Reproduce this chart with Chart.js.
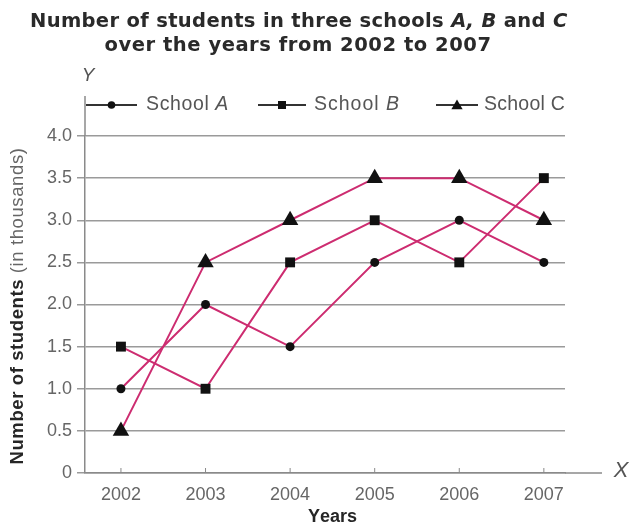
<!DOCTYPE html>
<html>
<head>
<meta charset="utf-8">
<script src="https://cdn.jsdelivr.net/npm/chart.js@4.4.1/dist/chart.umd.min.js"></script>
<style>
  html, body { margin: 0; padding: 0; background: #fff; }
  #wrap { width: 635px; height: 530px; position: relative; }
</style>
</head>
<body>
<div id="wrap"><canvas id="c" width="635" height="530"></canvas></div>
<script>
// ---- data ----
const years = [2002, 2003, 2004, 2005, 2006, 2007];
const schoolA = [1.0, 2.0, 1.5, 2.5, 3.0, 2.5];
const schoolB = [1.5, 1.0, 2.5, 3.0, 2.5, 3.5];
const schoolC = [0.5, 2.5, 3.0, 3.5, 3.5, 3.0];
const yTickValues = [0, 0.5, 1.0, 1.5, 2.0, 2.5, 3.0, 3.5, 4.0];
const yTickLabels = ['0', '0.5', '1.0', '1.5', '2.0', '2.5', '3.0', '3.5', '4.0'];
const seriesNames = ['School A', 'School B', 'School C'];
const titleLine1 = [['Number of students in three schools ', false], ['A, B', true], [' and ', false], ['C', true]];
const titleLine2 = 'over the years from 2002 to 2007';
const xTitle = 'Years';
const yTitleMain = 'Number of students ';
const yTitleSub = '(in thousands)';

const LINE = '#cd2c70';
const TFAM = '"DejaVu Sans", sans-serif';
const FAM = '"Liberation Sans", Arial, sans-serif';

function pts(vals) { return years.map((y, i) => ({ x: y, y: vals[i] })); }

// segs: [text, italic, weight?, color?]
function richText(ctx, segs, x, y, align, targetW, size, weight, color, fam) {
  fam = fam || FAM;
  ctx.save();
  ctx.textBaseline = 'middle';
  ctx.textAlign = 'left';
  const fontOf = s => (s[1] ? 'italic ' : '') + (s[2] || weight) + ' ' + size + 'px ' + fam;
  let natural = 0, nChars = 0;
  segs.forEach(s => {
    ctx.font = fontOf(s);
    natural += ctx.measureText(s[0]).width;
    nChars += s[0].length;
  });
  const ls = targetW ? (targetW - natural) / nChars : 0;
  const total = natural + ls * nChars;
  let cx = align === 'center' ? x - total / 2 : (align === 'right' ? x - total : x);
  segs.forEach(s => {
    ctx.font = fontOf(s);
    ctx.fillStyle = s[3] || color;
    for (const ch of s[0]) {
      ctx.fillText(ch, cx, y);
      cx += ctx.measureText(ch).width + ls;
    }
  });
  ctx.restore();
}

function marker(ctx, style, x, y, r) {
  ctx.save();
  ctx.fillStyle = '#111';
  ctx.beginPath();
  if (style === 'circle') { ctx.arc(x, y, r, 0, Math.PI * 2); }
  else if (style === 'rect') { ctx.rect(x - r, y - r, 2 * r, 2 * r); }
  else {
    ctx.moveTo(x, y - r);
    ctx.lineTo(x + r * Math.sin(Math.PI * 2 / 3), y - r * Math.cos(Math.PI * 2 / 3));
    ctx.lineTo(x + r * Math.sin(Math.PI * 4 / 3), y - r * Math.cos(Math.PI * 4 / 3));
    ctx.closePath();
  }
  ctx.fill();
  ctx.restore();
}

const decor = {
  id: 'decor',
  afterDraw(chart) {
    const ctx = chart.ctx;
    const ca = chart.chartArea;
    const xs = chart.scales.x;
    // title
    richText(ctx, titleLine1, 299, 22, 'center', 538, 19.5, 'bold', '#2a2a2a', TFAM);
    richText(ctx, [[titleLine2, false]], 298, 46, 'center', 387, 19.5, 'bold', '#2a2a2a', TFAM);
    // axis extensions
    ctx.save();
    ctx.strokeStyle = '#8a8a8a';
    ctx.lineWidth = 1.5;
    ctx.beginPath();
    ctx.moveTo(ca.left, ca.top);
    ctx.lineTo(ca.left, 96);
    ctx.moveTo(ca.right, ca.bottom);
    ctx.lineTo(602, ca.bottom);
    ctx.stroke();
    // x tick marks
    ctx.lineWidth = 1;
    years.forEach(v => {
      const px = xs.getPixelForValue(v);
      ctx.beginPath();
      ctx.moveTo(px, ca.bottom - 5);
      ctx.lineTo(px, ca.bottom);
      ctx.stroke();
    });
    ctx.restore();
    // axis letters
    richText(ctx, [['Y', true]], 88, 76, 'center', 0, 19, 'normal', '#555');
    richText(ctx, [['X', true]], 621, 471, 'center', 0, 22, 'normal', '#555');
    // legend
    const legend = [
      { style: 'circle', r: 3.8, x1: 86, x2: 137, tx: 146, tw: 83, segs: [['School ', false], ['A', true]] },
      { style: 'rect', r: 4, x1: 258, x2: 306, tx: 314, tw: 86, segs: [['School ', false], ['B', true]] },
      { style: 'triangle', r: 6.5, x1: 436, x2: 478, tx: 484, tw: 81, segs: [['School ', false], ['C', false]] }
    ];
    legend.forEach(it => {
      ctx.save();
      ctx.strokeStyle = '#333';
      ctx.lineWidth = 2;
      ctx.beginPath();
      ctx.moveTo(it.x1, 105);
      ctx.lineTo(it.x2, 105);
      ctx.stroke();
      ctx.restore();
      marker(ctx, it.style, (it.x1 + it.x2) / 2, it.style === 'triangle' ? 106 : 105, it.r);
      richText(ctx, it.segs, it.tx, 105, 'left', it.tw, 19.5, 'normal', '#555');
    });
    // y title
    ctx.save();
    ctx.translate(18, 306);
    ctx.rotate(-Math.PI / 2);
    richText(ctx, [[yTitleMain, false, 'bold', '#262626'], [yTitleSub, false, 'normal', '#666']], 0, 0, 'center', 317, 18.5, 'normal', '#333');
    ctx.restore();
    // x title
    richText(ctx, [[xTitle, false]], 332, 517, 'center', 0, 18, 'bold', '#262626');
  }
};

const mk = (label, vals, style, r) => ({
  label, data: pts(vals),
  borderColor: LINE, borderWidth: 2,
  pointStyle: style, pointRadius: r, pointHoverRadius: r,
  pointBackgroundColor: '#111', pointBorderColor: '#111', pointBorderWidth: 0,
  tension: 0, fill: false
});

new Chart(document.getElementById('c'), {
  type: 'line',
  data: {
    datasets: [
      mk(seriesNames[0], schoolA, 'circle', 4.5),
      mk(seriesNames[1], schoolB, 'rect', 7),
      mk(seriesNames[2], schoolC, 'triangle', 9.5)
    ]
  },
  options: {
    responsive: false,
    animation: false,
    devicePixelRatio: 1,
    layout: { padding: { left: 0, right: 70, top: 136, bottom: 0 } },
    plugins: { legend: { display: false }, title: { display: false }, tooltip: { enabled: false } },
    scales: {
      x: {
        type: 'linear',
        min: 2001.575, max: 2007.25,
        afterBuildTicks: s => { s.ticks = years.map(v => ({ value: v })); },
        afterFit: s => { s.height = 57; },
        grid: { display: false, drawTicks: false },
        border: { display: true, color: '#8a8a8a', width: 1.5 },
        ticks: {
          callback: v => String(v),
          color: '#666', font: { family: FAM, size: 18 }, padding: 11, maxRotation: 0, autoSkip: false
        }
      },
      y: {
        type: 'linear',
        min: 0, max: 4,
        afterBuildTicks: s => { s.ticks = yTickValues.map(v => ({ value: v })); },
        afterFit: s => { s.width = 85; },
        grid: { color: '#9a9a9a', lineWidth: 1.5, tickLength: 8, drawTicks: true },
        border: { display: true, color: '#8a8a8a', width: 1.5 },
        ticks: {
          callback: (v) => { const i = yTickValues.indexOf(v); return i >= 0 ? yTickLabels[i] : ''; },
          color: '#666', font: { family: FAM, size: 18 }, padding: 5
        }
      }
    }
  },
  plugins: [decor]
});
</script>
</body>
</html>
